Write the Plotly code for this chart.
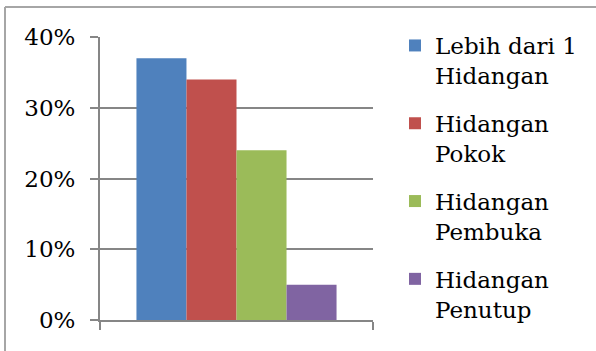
import plotly.graph_objects as go

# Share of respondents by dish preference
series_names = ["Lebih dari 1<br>Hidangan", "Hidangan<br>Pokok", "Hidangan<br>Pembuka", "Hidangan<br>Penutup"]
series_values = [0.37, 0.34, 0.24, 0.05]
series_colors = ["#4F81BD", "#C0504D", "#9BBB59", "#8064A2"]
category = [""]
y_ticks = [0, 0.1, 0.2, 0.3, 0.4]

W, H = 596, 351
FONT = "DejaVu Serif"
FSIZE = 23
GREY = "#868686"

fig = go.Figure()
for i, (name, val, col) in enumerate(zip(series_names, series_values, series_colors)):
    fig.add_trace(go.Bar(
        x=category, y=[val], name=name, marker_color=col,
        marker_line_width=0, legendgroup=f"g{i}",
    ))

# plot-area edges in pixels
L, R, T, B = 100, 373, 37, 320

fig.update_layout(
    template="none",
    width=W, height=H,
    margin=dict(l=L, r=W - R, t=T, b=H - B, autoexpand=False),
    paper_bgcolor="white", plot_bgcolor="white",
    barmode="group", bargap=0.267, bargroupgap=0,
    font=dict(family=FONT, size=FSIZE, color="#000000"),
    showlegend=True,
    legend=dict(
        xref="container", yref="container",
        x=395 / W, y=1 - 24 / H, xanchor="left", yanchor="top",
        valign="top", traceorder="grouped", tracegroupgap=15,
        maxheight=1,
        font=dict(family=FONT, size=FSIZE, color="#000000"),
        bgcolor="rgba(0,0,0,0)", borderwidth=0,
    ),
    xaxis=dict(
        type="category", tickson="boundaries", ticks="outside", ticklen=8,
        tickwidth=2, tickcolor=GREY, showticklabels=False, showgrid=False,
        showline=True, linecolor=GREY, linewidth=2, zeroline=False,
    ),
    yaxis=dict(
        range=[0, 0.4], tickvals=y_ticks, tickformat=".0%",
        ticks="outside", ticklen=8, tickwidth=2, tickcolor=GREY,
        ticklabelstandoff=10,
        showgrid=True, gridcolor=GREY, gridwidth=2,
        showline=True, linecolor=GREY, linewidth=2, zeroline=False,
    ),
)

# chart frame (top and left edges)
def px_x(p):
    return (p - L) / (R - L)

def px_y(p):
    return (B - p) / (B - T)

fig.add_shape(type="line", xref="paper", yref="paper",
              x0=px_x(5), x1=px_x(W + 5), y0=px_y(7), y1=px_y(7),
              line=dict(color="#A6A6A6", width=2))
fig.add_shape(type="line", xref="paper", yref="paper",
              x0=px_x(5), x1=px_x(5), y0=px_y(7), y1=px_y(H + 5),
              line=dict(color="#A6A6A6", width=2))

fig.write_html("out.html")
